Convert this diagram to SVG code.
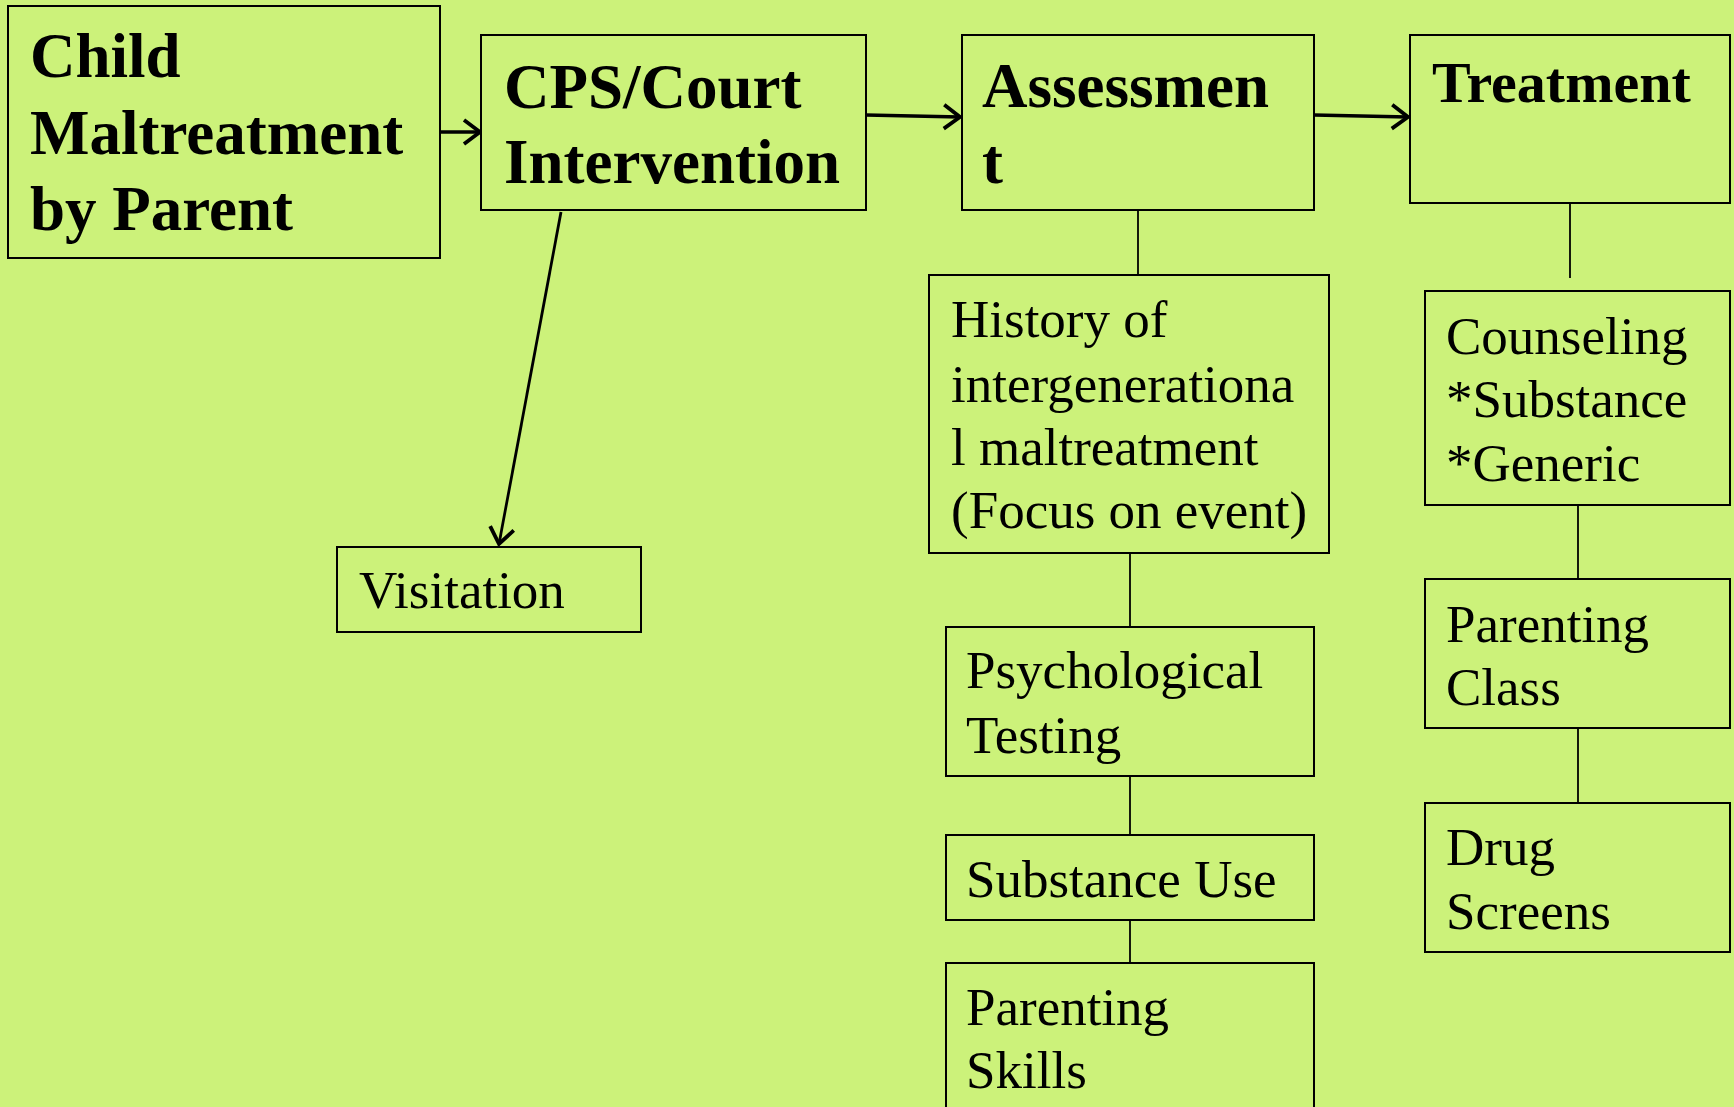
<svg xmlns="http://www.w3.org/2000/svg" width="1734" height="1107" viewBox="0 0 1734 1107">
<defs>
<style>
.box{fill:#CCF27A;stroke:#000;stroke-width:2}
.b{font-family:"Liberation Serif","Times New Roman",serif;font-weight:bold;font-size:63px;fill:#000}
.r{font-family:"Liberation Serif","Times New Roman",serif;font-size:53px;fill:#000}
.arr{stroke:#000;stroke-width:3.5;fill:none;marker-end:url(#ah)}
.ln{stroke:#000;stroke-width:1.8;fill:none}
</style>
<marker id="ah" markerUnits="userSpaceOnUse" markerWidth="36" markerHeight="36" viewBox="-24 -18 36 36" refX="0" refY="0" orient="auto">
<path d="M-16,-12 L0,0 L-16,12" fill="none" stroke="#000" stroke-width="3.8"/>
</marker>
</defs>
<rect width="1734" height="1107" fill="#CCF27A"/>
<g id="connectors">
<line class="arr" x1="440" y1="132" x2="480" y2="132"/>
<line class="arr" x1="866" y1="115" x2="960" y2="117"/>
<line class="arr" x1="1314" y1="115" x2="1408" y2="117"/>
<line class="arr" x1="561" y1="212" x2="499" y2="544" style="stroke-width:2.8"/>
<line class="ln" x1="1138" y1="210" x2="1138" y2="275"/>
<line class="ln" x1="1570" y1="203" x2="1570" y2="278"/>
<line class="ln" x1="1130" y1="553" x2="1130" y2="627"/>
<line class="ln" x1="1130" y1="776" x2="1130" y2="835"/>
<line class="ln" x1="1130" y1="920" x2="1130" y2="963"/>
<line class="ln" x1="1578" y1="505" x2="1578" y2="579"/>
<line class="ln" x1="1578" y1="728" x2="1578" y2="803"/>
</g>
<g id="child">
<rect class="box" x="8" y="6" width="432" height="252"/>
<text class="b"><tspan x="30" y="77">Child</tspan><tspan x="30" y="154">Maltreatment</tspan><tspan x="30" y="230">by Parent</tspan></text>
</g>
<g id="cps">
<rect class="box" x="481" y="35" width="385" height="175"/>
<text class="b"><tspan x="504" y="108">CPS/Court</tspan><tspan x="504" y="183">Intervention</tspan></text>
</g>
<g id="assessment">
<rect class="box" x="962" y="35" width="352" height="175"/>
<text class="b"><tspan x="982" y="107">Assessmen</tspan><tspan x="982" y="183">t</tspan></text>
</g>
<g id="treatment">
<rect class="box" x="1410" y="35" width="320" height="168"/>
<text class="b" style="font-size:58px"><tspan x="1432" y="102">Treatment</tspan></text>
</g>
<g id="visitation">
<rect class="box" x="337" y="547" width="304" height="85"/>
<text class="r"><tspan x="359" y="608">Visitation</tspan></text>
</g>
<g id="history">
<rect class="box" x="929" y="275" width="400" height="278"/>
<text class="r"><tspan x="951" y="337">History of</tspan><tspan x="951" y="402">intergenerationa</tspan><tspan x="951" y="465">l maltreatment</tspan><tspan x="951" y="528">(Focus on event)</tspan></text>
</g>
<g id="psych">
<rect class="box" x="946" y="627" width="368" height="149"/>
<text class="r"><tspan x="966" y="688">Psychological</tspan><tspan x="966" y="753">Testing</tspan></text>
</g>
<g id="substance">
<rect class="box" x="946" y="835" width="368" height="85"/>
<text class="r"><tspan x="966" y="897">Substance Use</tspan></text>
</g>
<g id="parenting-skills">
<rect class="box" x="946" y="963" width="368" height="160"/>
<text class="r"><tspan x="966" y="1025">Parenting</tspan><tspan x="966" y="1088">Skills</tspan></text>
</g>
<g id="counseling">
<rect class="box" x="1425" y="291" width="305" height="214"/>
<text class="r"><tspan x="1446" y="354">Counseling</tspan><tspan x="1446" y="417">*Substance</tspan><tspan x="1446" y="481">*Generic</tspan></text>
</g>
<g id="parenting-class">
<rect class="box" x="1425" y="579" width="305" height="149"/>
<text class="r"><tspan x="1446" y="642">Parenting</tspan><tspan x="1446" y="705">Class</tspan></text>
</g>
<g id="drug">
<rect class="box" x="1425" y="803" width="305" height="149"/>
<text class="r"><tspan x="1446" y="865">Drug</tspan><tspan x="1446" y="929">Screens</tspan></text>
</g>
</svg>
